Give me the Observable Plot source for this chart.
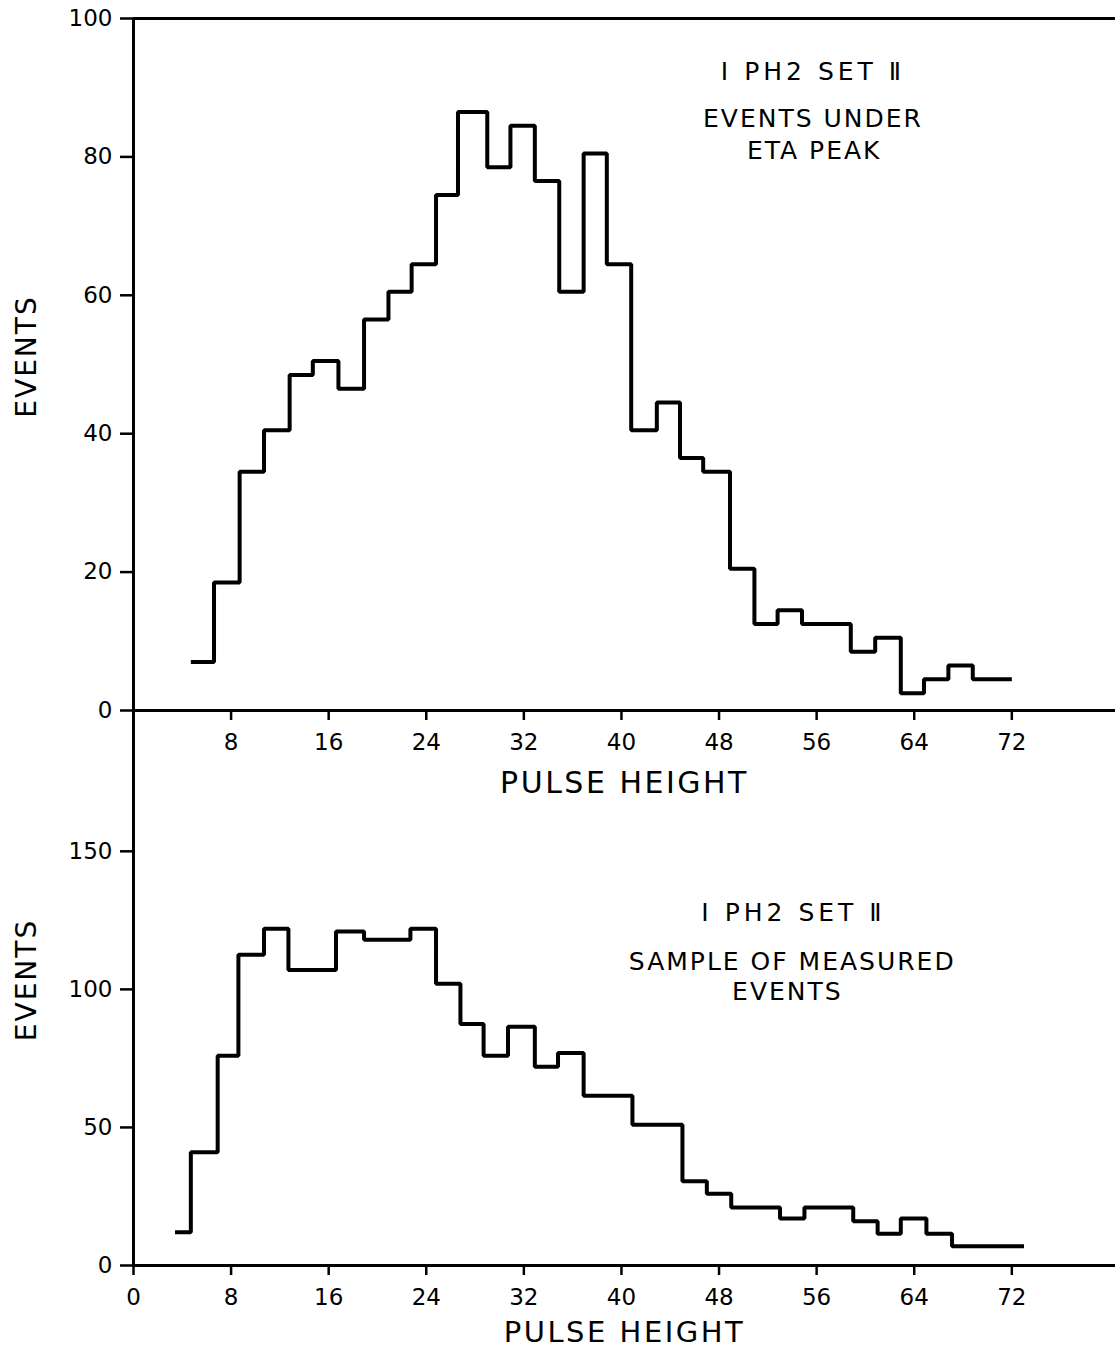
<!DOCTYPE html>
<html>
<head>
<meta charset="utf-8">
<script src="https://cdn.jsdelivr.net/npm/d3@7"></script>
<script src="https://cdn.jsdelivr.net/npm/@observablehq/plot@0.6"></script>
<style>
  body { margin: 0; background: #fff; }
  #chart { position: relative; width: 1115px; height: 1350px; background: #fff; overflow: hidden; }
  #chart svg { position: absolute; left: 0; }
</style>
</head>
<body>
<div id="chart"></div>
<script>
// Upper histogram: events under the eta peak, by pulse height (bin edges and counts)
const etaEdges = [4.7, 6.6, 8.7, 10.7, 12.8, 14.7, 16.8, 18.9, 20.9, 22.8, 24.8, 26.6, 29.0,
  30.9, 32.9, 34.9, 36.9, 38.8, 40.8, 42.9, 44.8, 46.7, 48.9, 50.9, 52.8, 54.8, 56.8, 58.8,
  60.8, 62.9, 64.8, 66.8, 68.8, 72];
const etaCounts = [7, 18.5, 34.5, 40.5, 48.5, 50.5, 46.5, 56.5, 60.5, 64.5, 74.5, 86.5, 78.5,
  84.5, 76.5, 60.5, 80.5, 64.5, 40.5, 44.5, 36.5, 34.5, 20.5, 12.5, 14.5, 12.5, 12.5, 8.5,
  10.5, 2.5, 4.5, 6.5, 4.5];

// Lower histogram: sample of measured events, by pulse height
const sampleEdges = [3.4, 4.7, 6.9, 8.6, 10.7, 12.7, 14.7, 16.6, 18.9, 20.8, 22.7, 24.8, 26.8,
  28.7, 30.7, 32.9, 34.8, 36.9, 38.9, 40.9, 42.9, 45, 47, 49, 51, 53, 55, 57, 59, 61, 62.9,
  65, 67.1, 69, 71, 73];
const sampleCounts = [12, 41, 76, 112.5, 122, 107, 107, 121, 118, 118, 122, 102, 87.5, 76,
  86.5, 72, 77, 61.5, 61.5, 51, 51, 30.5, 26, 21, 21, 17, 21, 21, 16, 11.5, 17, 11.5, 7, 7, 7];

// Axis ticks
const etaTicksX = [8, 16, 24, 32, 40, 48, 56, 64, 72];
const sampleTicksX = [0, 8, 16, 24, 32, 40, 48, 56, 64, 72];
const etaTicksY = [0, 20, 40, 60, 80, 100];
const sampleTicksY = [0, 50, 100, 150];

// Panel annotations
const etaNotes = [
  {text: "I PH2 SET Ⅱ", x: 55.7, y: 92.2},
  {text: "EVENTS UNDER", x: 55.7, y: 85.5},
  {text: "ETA PEAK", x: 55.8, y: 80.8}
];
const sampleNotes = [
  {text: "I PH2 SET Ⅱ", x: 54.1, y: 127.7},
  {text: "SAMPLE OF MEASURED", x: 54.0, y: 110},
  {text: "EVENTS", x: 53.6, y: 99}
];

const xTitle = "PULSE HEIGHT";
const yTitle = "EVENTS";

// Turn bin edges + counts into the outline of a step histogram
function outline(edges, counts) {
  return counts.flatMap((c, i) => [{x: edges[i], y: c}, {x: edges[i + 1], y: c}]);
}

const font = "DejaVu Sans, Verdana, sans-serif";

// Wide stencil-style lettering: extra tracking per label
function tracking(text) {
  if (text === xTitle) return 2.5;
  if (text.startsWith("I PH2")) return 4;
  if (etaNotes.some(d => d.text === text) || sampleNotes.some(d => d.text === text)) return 2;
  return null;
}

function panel({edges, counts, ticksX, ticksY, notes, yDomain, height, marginTop, marginBottom,
                frameTop, titleOffset, titleSize}) {
  const marks = [
    Plot.ruleX([0], {stroke: "black", strokeWidth: 3}),
    Plot.ruleY([0], {stroke: "black", strokeWidth: 3}),
    Plot.axisX({ticks: ticksX, tickSize: 10, tickPadding: 13, label: null, strokeWidth: 2.5, fill: "black"}),
    Plot.axisY({ticks: ticksY, tickSize: 13, tickPadding: 8, label: null, strokeWidth: 2.5, fill: "black"}),
    Plot.line(outline(edges, counts), {
      x: "x", y: "y", stroke: "black", strokeWidth: 4,
      strokeLinejoin: "miter", strokeLinecap: "butt", curve: "linear"
    }),
    Plot.text(notes, {
      x: "x", y: "y", text: "text", fontSize: 25, fill: "black", textAnchor: "middle"
    }),
    Plot.text([xTitle], {
      frameAnchor: "bottom", lineAnchor: "middle", textAnchor: "middle",
      dy: titleOffset, fontSize: titleSize, fill: "black"
    }),
    Plot.text([yTitle], {
      frameAnchor: "left", lineAnchor: "middle", textAnchor: "middle",
      dx: -106, dy: -8, rotate: -90, fontSize: 28, fill: "black"
    })
  ];
  if (frameTop != null) marks.push(Plot.ruleY([frameTop], {stroke: "black", strokeWidth: 3}));
  const svg = Plot.plot({
    width: 1115,
    height,
    marginLeft: 133,
    marginRight: 0,
    marginTop,
    marginBottom,
    x: {domain: [0, 80.5]},
    y: {domain: yDomain},
    style: {
      background: "transparent",
      fontFamily: font,
      fontSize: "23px",
      color: "black",
      overflow: "visible"
    },
    marks
  });
  d3.select(svg).selectAll("text").each(function () {
    const s = tracking(this.textContent);
    if (s != null) this.setAttribute("letter-spacing", s);
  });
  return svg;
}

const etaPanel = panel({
  edges: etaEdges, counts: etaCounts, ticksX: etaTicksX, ticksY: etaTicksY, notes: etaNotes,
  yDomain: [0, 100], height: 810, marginTop: 18, marginBottom: 100, frameTop: 100,
  titleOffset: 73, titleSize: 30
});
etaPanel.style.top = "0px";

const samplePanel = panel({
  edges: sampleEdges, counts: sampleCounts, ticksX: sampleTicksX, ticksY: sampleTicksY, notes: sampleNotes,
  yDomain: [0, 201], height: 650, marginTop: 10, marginBottom: 85, frameTop: null,
  titleOffset: 67, titleSize: 29
});
samplePanel.style.top = "700px";

document.getElementById("chart").append(etaPanel, samplePanel);
</script>
</body>
</html>
